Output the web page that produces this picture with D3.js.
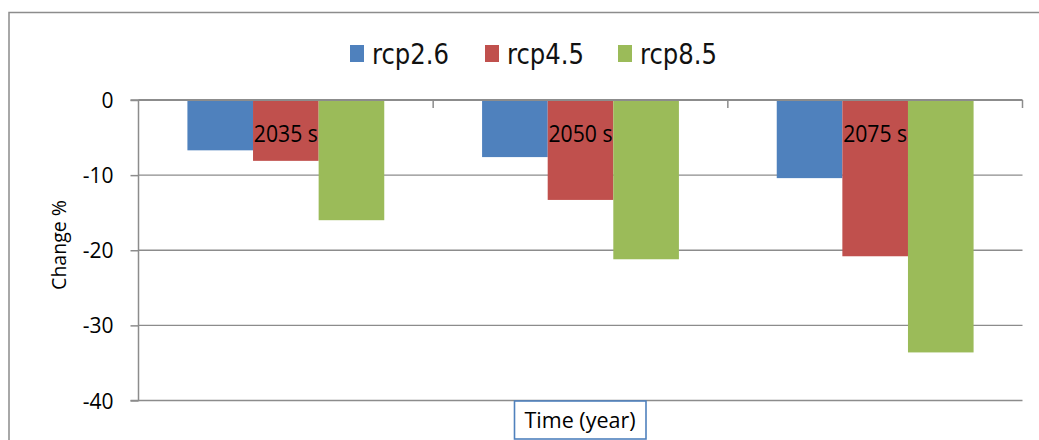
<!DOCTYPE html>
<html><head><meta charset="utf-8">
<script src="https://cdn.jsdelivr.net/npm/d3@7"></script>
<style>body{margin:0;background:#fff}svg{display:block}</style>
</head><body>
<svg id="c" width="1039" height="440"></svg>
<script>
const categories = ["2035 s", "2050 s", "2075 s"];
const seriesNames = ["rcp2.6", "rcp4.5", "rcp8.5"];
const rcp26 = [-6.7, -7.6, -10.4];
const rcp45 = [-8.1, -13.3, -20.8];
const rcp85 = [-16.0, -21.2, -33.6];
const yTicks = [0, -10, -20, -30, -40];
const colors = ["#4F81BD", "#C0504D", "#9BBB59"];
const series = [rcp26, rcp45, rcp85];

const svg = d3.select("#c");
const font = "'Open Sans', sans-serif";

// outer border
svg.append("path").attr("d", "M9,440 V12.5 H1039").attr("fill","none").attr("stroke","#8c8c8c").attr("stroke-width",1.5);

const left = 138.5, right = 1022.5;
const y = d3.scaleLinear().domain([0, -40]).range([100, 400.5]);
const x0 = d3.scaleBand().domain(categories).range([left, right]).paddingInner(0).paddingOuter(0);
const groupW = x0.bandwidth() * 0.668;
const x1 = d3.scaleBand().domain(seriesNames).range([0, groupW]);

// gridlines
svg.append("g").selectAll("line").data(yTicks.filter(d=>d!==0)).join("line")
  .attr("x1", left).attr("x2", right).attr("y1", d=>y(d)).attr("y2", d=>y(d))
  .attr("stroke","#8c8c8c").attr("stroke-width",1.3);

// y axis
const yAxis = svg.append("g").attr("transform", `translate(${left},0)`)
  .call(d3.axisLeft(y).tickValues(yTicks).tickSize(8).tickPadding(17).tickFormat(d => String(d)));
yAxis.select(".domain").attr("stroke","#8c8c8c").attr("stroke-width",1.5).attr("d", `M-8,${y(0)}H0V${y(-40)}H-8`);
yAxis.selectAll(".tick line").attr("stroke","#8c8c8c").attr("stroke-width",1.5);
yAxis.selectAll(".tick text").attr("font-family", font).attr("font-size", 21).attr("fill","#000").attr("dy","0.36em");

// bars
const groups = svg.append("g").selectAll("g").data(categories).join("g")
  .attr("transform", d => `translate(${x0(d) + (x0.bandwidth()-groupW)/2},0)`);
groups.selectAll("rect").data((d,i) => series.map((s,j) => ({name: seriesNames[j], v: s[i], c: colors[j]})))
  .join("rect")
  .attr("x", d => x1(d.name)).attr("width", x1.bandwidth())
  .attr("y", y(0)).attr("height", d => y(d.v) - y(0))
  .attr("fill", d => d.c);

// category axis at zero (top)
svg.append("line").attr("x1", left).attr("x2", right).attr("y1", y(0)).attr("y2", y(0))
  .attr("stroke","#8c8c8c").attr("stroke-width",1.8);
svg.append("g").selectAll("line").data(categories.slice(1).map(c=>x0(c)).concat([right])).join("line")
  .attr("x1", d=>d).attr("x2", d=>d).attr("y1", y(0)).attr("y2", y(0)+8)
  .attr("stroke","#8c8c8c").attr("stroke-width",1.5);

// category labels
svg.append("g").selectAll("text").data(categories).join("text")
  .attr("x", d => x0(d) + x0.bandwidth()/2).attr("y", 141.5)
  .attr("text-anchor","middle").attr("font-family", font).attr("font-size", 23).attr("fill","#000")
  .attr("textLength", 64).attr("lengthAdjust","spacingAndGlyphs")
  .text(d=>d);

// y axis title
svg.append("text").attr("transform","translate(66,245) rotate(-90)")
  .attr("text-anchor","middle").attr("font-family", font).attr("font-size", 19.5).attr("fill","#000")
  .text("Change %");

// x axis title with box
svg.append("rect").attr("x",514.5).attr("y",401).attr("width",131.5).attr("height",38)
  .attr("fill","#fff").attr("stroke","#4F81BD").attr("stroke-width",1.6);
svg.append("text").attr("x",580).attr("y",428).attr("text-anchor","middle")
  .attr("font-family", font).attr("font-size", 21.5).attr("fill","#000").text("Time (year)");

// legend
const legX = [350, 485, 618];
const leg = svg.append("g").selectAll("g").data(seriesNames).join("g")
  .attr("transform", (d,i)=>`translate(${legX[i]},0)`);
leg.append("rect").attr("x",0).attr("y",45).attr("width",14).attr("height",17).attr("fill",(d,i)=>colors[i]);
leg.append("text").attr("x",22).attr("y",63.5).attr("font-family","'DejaVu Sans', sans-serif")
  .attr("font-size",28).attr("textLength",77).attr("lengthAdjust","spacingAndGlyphs").attr("fill","#111")
  .text(d=>d);
</script>
</body></html>
